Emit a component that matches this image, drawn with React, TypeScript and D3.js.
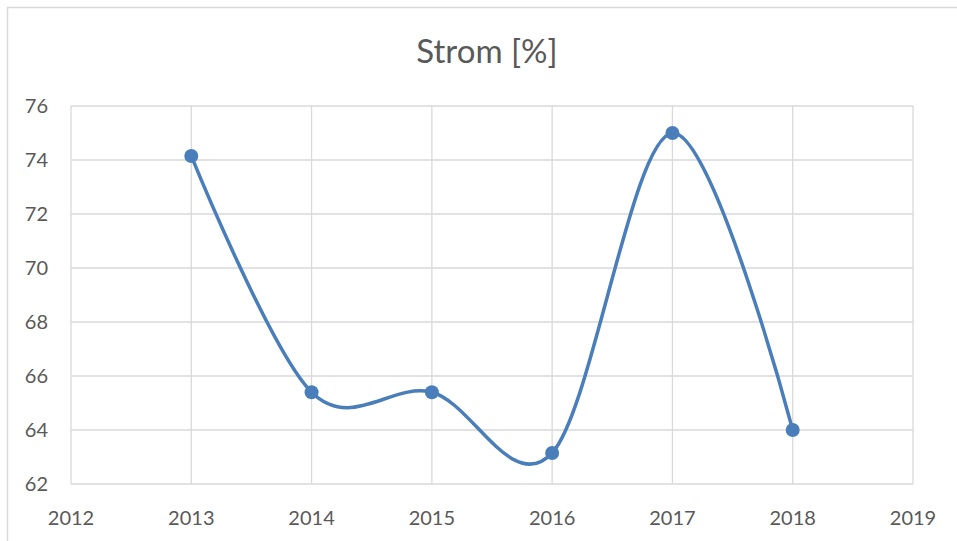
import * as d3 from 'd3';
import React from 'react';
import { useEffect, useRef } from 'react';

const years = [2013, 2014, 2015, 2016, 2017, 2018];
const strom = [74.15, 65.4, 65.4, 63.15, 75.0, 64.0];
const xTicks = [2012, 2013, 2014, 2015, 2016, 2017, 2018, 2019];
const yTicks = [62, 64, 66, 68, 70, 72, 74, 76];
const title = 'Strom [%]';

function drawChart(node, width, height) {
    const svg = d3.select(node);
    svg.selectAll('*').remove();

    const left = 71, right = 913, top = 106, bottom = 484;
    const font = 'Lato, "Open Sans", sans-serif';

    const x = d3.scaleLinear().domain([2012, 2019]).range([left, right]);
    const y = d3.scaleLinear().domain([62, 76]).range([bottom, top]);

    svg.append('rect')
        .attr('x', 7.5).attr('y', 7.5)
        .attr('width', width + 20).attr('height', height + 20)
        .attr('fill', 'white').attr('stroke', '#d9d9d9').attr('stroke-width', 1.5);

    // grid
    svg.append('g').selectAll('line').data(yTicks).join('line')
        .attr('x1', left).attr('x2', right)
        .attr('y1', d => y(d)).attr('y2', d => y(d))
        .attr('stroke', '#d9d9d9').attr('stroke-width', 1.3);
    svg.append('g').selectAll('line').data(xTicks).join('line')
        .attr('x1', d => x(d)).attr('x2', d => x(d))
        .attr('y1', top).attr('y2', bottom)
        .attr('stroke', '#d9d9d9').attr('stroke-width', 1.3);

    // tick labels
    svg.append('g').selectAll('text').data(yTicks).join('text')
        .attr('x', 48).attr('y', d => y(d) + 7)
        .attr('text-anchor', 'end')
        .attr('font-family', font).attr('font-size', 20).attr('fill', '#595959')
        .text(d => d);
    svg.append('g').selectAll('text').data(xTicks).join('text')
        .attr('x', d => x(d)).attr('y', 525)
        .attr('text-anchor', 'middle')
        .attr('font-family', font).attr('font-size', 20).attr('fill', '#595959')
        .text(d => d);

    svg.append('text')
        .attr('x', 487).attr('y', 63)
        .attr('text-anchor', 'middle')
        .attr('font-family', font).attr('font-size', 33).attr('fill', '#595959')
        .text(title);

    const data = years.map((yr, i) => ({ yr, v: strom[i] }));
    const line = d3.line()
        .x(d => x(d.yr))
        .y(d => y(d.v))
        .curve(d3.curveCardinal.tension(0));

    svg.append('path')
        .datum(data)
        .attr('fill', 'none')
        .attr('stroke', '#4a7ebb')
        .attr('stroke-width', 3.5)
        .attr('stroke-linejoin', 'round')
        .attr('stroke-linecap', 'round')
        .attr('d', line);

    svg.append('g').selectAll('circle').data(data).join('circle')
        .attr('cx', d => x(d.yr)).attr('cy', d => y(d.v))
        .attr('r', 7)
        .attr('fill', '#4a7ebb');
}

function App() {
    const width = 957;
    const height = 541;
    const ref = useRef(null);
    useEffect(() => drawChart(ref.current, width, height));

    return <svg ref={ref} width={width} height={height}
        style={{ position: 'absolute', left: 0, top: 0, background: 'white' }}></svg>;
}

export default App;
